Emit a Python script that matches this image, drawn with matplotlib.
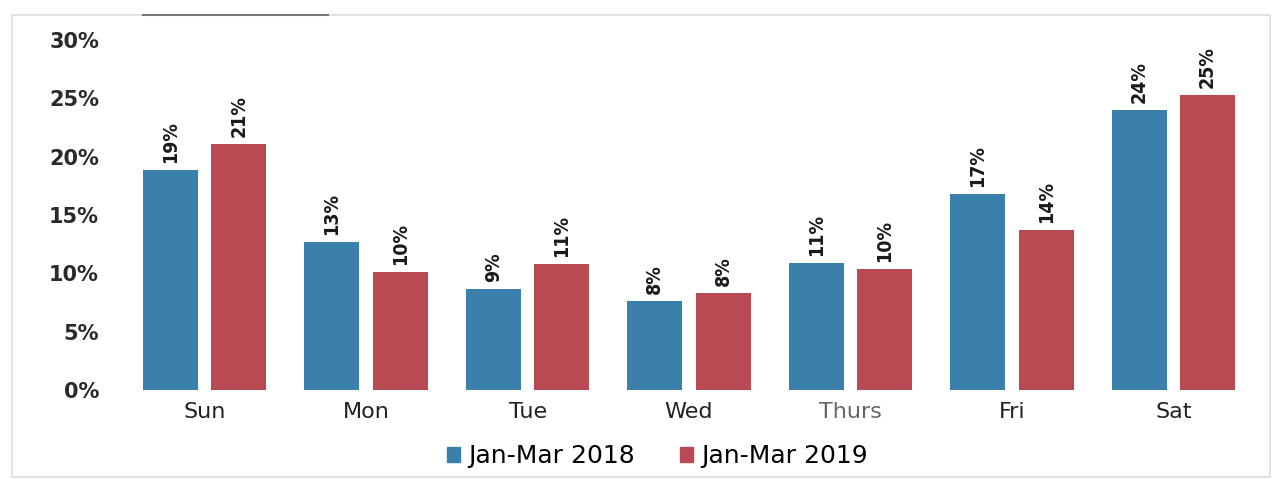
import os
import matplotlib
matplotlib.use("Agg")
import matplotlib.pyplot as plt
import numpy as np
from matplotlib.patches import Rectangle
from matplotlib.lines import Line2D
from matplotlib.font_manager import FontProperties

ttf = os.path.join(matplotlib.get_data_path(), "fonts", "ttf")
def fp(name, size):
    path = os.path.join(ttf, name)
    if os.path.exists(path):
        return FontProperties(fname=path, size=size)
    return FontProperties(family="DejaVu Sans", size=size)

days = ["Sun", "Mon", "Tue", "Wed", "Thurs", "Fri", "Sat"]
series_names = ["Jan-Mar 2018", "Jan-Mar 2019"]
vals_2018 = [18.9, 12.7, 8.7, 7.6, 10.9, 16.8, 24.0]
vals_2019 = [21.1, 10.1, 10.8, 8.3, 10.4, 13.7, 25.3]
yticks = [0, 5, 10, 15, 20, 25, 30]

c_blue = "#3b7fab"
c_red = "#b94953"

fig = plt.figure(figsize=(12.77, 4.79), dpi=100)
ax = fig.add_axes([124/1277, 1 - 390/479, (1254-124)/1277, 350/479])

x = np.arange(len(days))
w = 0.34
off = 0.212
b1 = ax.bar(x - off, vals_2018, w, color=c_blue, label=series_names[0])
b2 = ax.bar(x + off, vals_2019, w, color=c_red, label=series_names[1])

lab_fp = FontProperties(family=['Liberation Sans Narrow', 'DejaVu Sans'],
                        weight='bold', stretch='condensed', size=14)
for bars, vals in ((b1, vals_2018), (b2, vals_2019)):
    for rect, v in zip(bars, vals):
        ax.annotate(f"{round(v)}%", (rect.get_x() + rect.get_width()/2, v),
                    xytext=(0, 5), textcoords="offset points",
                    rotation=90, ha="center", va="bottom",
                    fontproperties=lab_fp, color="#1a1a1a")

ax.set_xlim(-0.5, len(days) - 0.5)
ax.set_ylim(0, 30)
ax.set_yticks(yticks)
ax.set_yticklabels([f"{t}%" for t in yticks], fontproperties=fp("DejaVuSans-Bold.ttf", 15),
                   color="#2a2a2a")
ax.set_xticks(x)
ax.set_xticklabels(days, fontproperties=fp("DejaVuSans.ttf", 16), color="#222222")
ax.get_xticklabels()[4].set_color("#666666")
ax.tick_params(axis="y", length=0, pad=18)
ax.tick_params(axis="x", length=0, pad=9)
for s in ax.spines.values():
    s.set_visible(False)

handles = [Rectangle((0, 0), 1, 1, color=c_blue), Rectangle((0, 0), 1, 1, color=c_red)]
fig.legend(handles, series_names, loc="center", bbox_to_anchor=(657/1277, 1 - 456/479),
           ncol=2, frameon=False, handlelength=0.55, handleheight=0.55,
           handletextpad=0.3, columnspacing=1.8,
           prop=fp("DejaVuSans.ttf", 18))

# outer light border and title remnant
fig.add_artist(Rectangle((12/1277, 2/479), (1270-12)/1277, (464-2)/479,
                         transform=fig.transFigure, fill=False,
                         edgecolor="#dddddd", linewidth=1.2))
fig.add_artist(Line2D([143/1277, 328/1277], [1 - 15/479, 1 - 15/479],
                      transform=fig.transFigure, color="#777777", linewidth=1.5))

fig.savefig("out.png", dpi=100, facecolor="white")
